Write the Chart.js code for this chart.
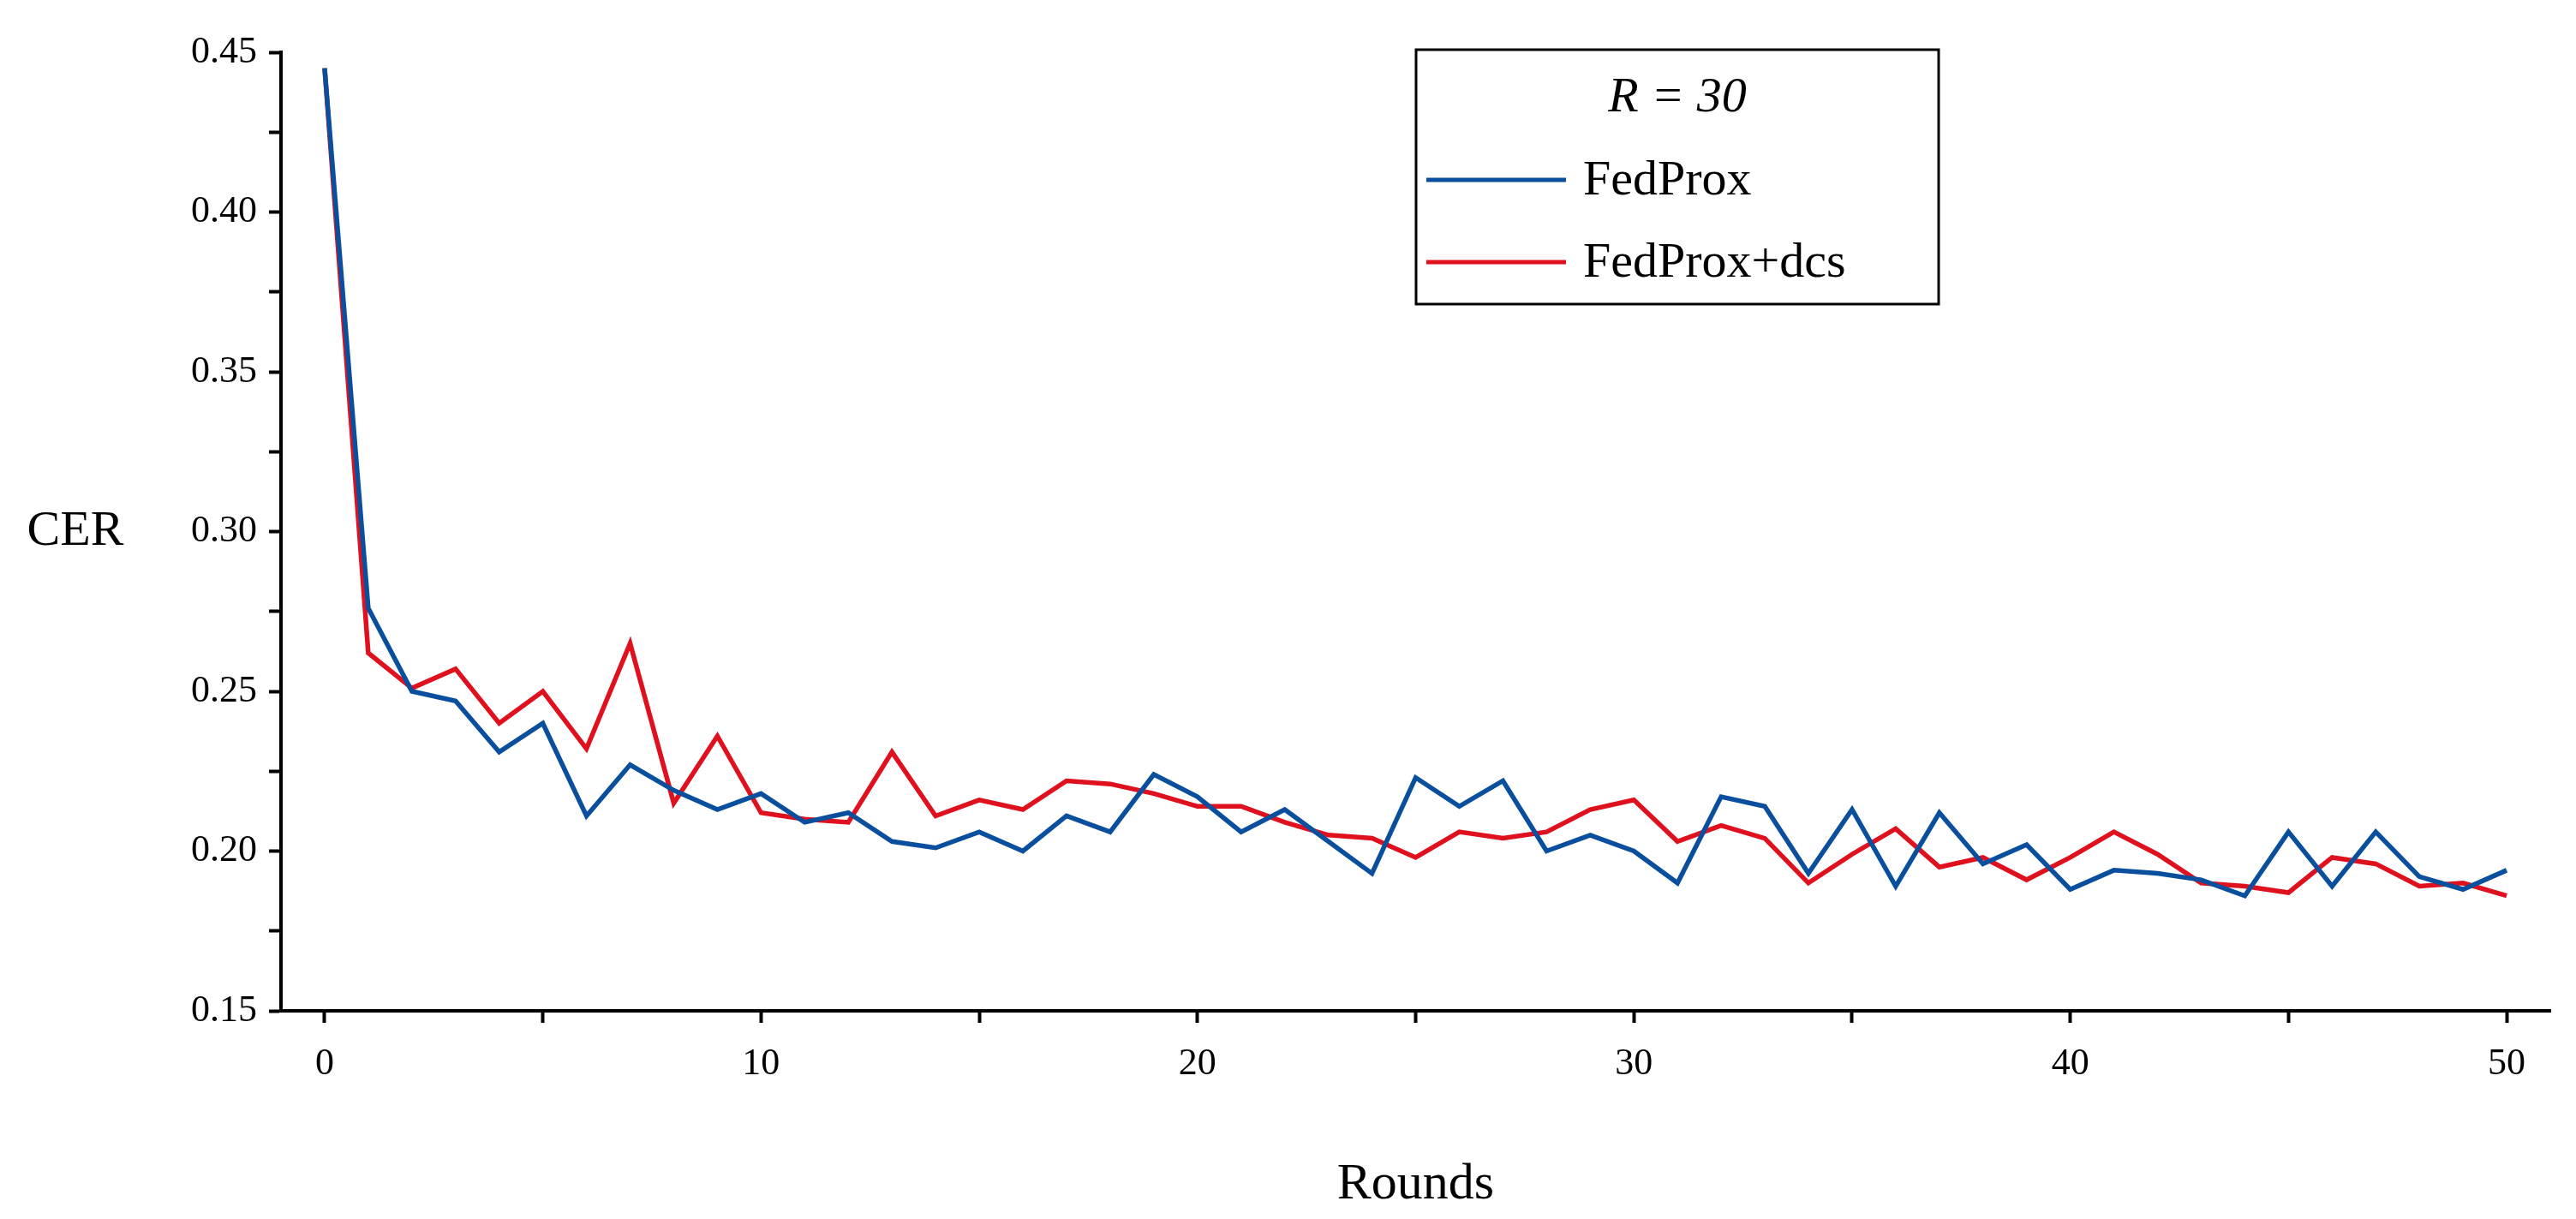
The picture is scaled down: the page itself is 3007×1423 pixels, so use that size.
<!DOCTYPE html>
<html><head><meta charset="utf-8">
<script src="https://cdn.jsdelivr.net/npm/chart.js@4.4.1/dist/chart.umd.min.js"></script>
<style>html,body{margin:0;padding:0;background:#fff}#wrap{width:3007px;height:1423px}</style>
</head><body><div id="wrap"><canvas id="c"></canvas></div>
<script>
const rounds = Array.from({length:51},(_,i)=>i);
const fedprox = [0.445,0.276,0.250,0.247,0.231,0.240,0.211,0.227,0.219,0.213,0.218,0.209,0.212,0.203,0.201,0.206,0.200,0.211,0.206,0.224,0.217,0.206,0.213,0.203,0.193,0.223,0.214,0.222,0.200,0.205,0.200,0.190,0.217,0.214,0.193,0.213,0.189,0.212,0.196,0.202,0.188,0.194,0.193,0.191,0.186,0.206,0.189,0.206,0.192,0.188,0.194];
const fedproxDcs = [0.445,0.262,0.251,0.257,0.240,0.250,0.232,0.265,0.215,0.236,0.212,0.210,0.209,0.231,0.211,0.216,0.213,0.222,0.221,0.218,0.214,0.214,0.209,0.205,0.204,0.198,0.206,0.204,0.206,0.213,0.216,0.203,0.208,0.204,0.190,0.199,0.207,0.195,0.198,0.191,0.198,0.206,0.199,0.190,0.189,0.187,0.198,0.196,0.189,0.190,0.186];
const seriesNames = ['FedProx','FedProx+dcs'];
const seriesColors = ['#0a4f9e','#e0111e'];
const legendTitle = 'R = 30';

const serif = '"Liberation Serif", "Times New Roman", serif';
Chart.defaults.font.family = serif;
Chart.defaults.font.size = 44;
Chart.defaults.color = '#000';

// legend box + CER label drawn by hand
const extras = {
  id:'extras',
  afterDraw(chart){
    const ctx=chart.ctx;
    ctx.save();
    ctx.fillStyle='#000';
    ctx.font='58px '+serif;
    ctx.textAlign='center';ctx.textBaseline='middle';
    const y=chart.scales.y.getPixelForValue(0.30);
    ctx.fillText('CER',88,y);
    // legend
    const lx=1653, ly=58, lw=610, lh=297;
    ctx.lineWidth=3;ctx.strokeStyle='#000';
    ctx.strokeRect(lx,ly,lw,lh);
    ctx.font='italic 58px '+serif;
    ctx.fillText(legendTitle,lx+lw/2,ly+57);
    ctx.textAlign='left';
    ctx.font='58px '+serif;
    seriesNames.forEach((n,i)=>{
      const yy=ly+152+i*96;
      ctx.strokeStyle=seriesColors[i];ctx.lineWidth=5;
      ctx.beginPath();ctx.moveTo(lx+12,yy);ctx.lineTo(lx+175,yy);ctx.stroke();
      ctx.fillText(n,lx+195,yy+2);
    });
    ctx.restore();
  }
};

new Chart(document.getElementById('c'),{
  type:'line',
  data:{
    labels:rounds,
    datasets:[
      {label:seriesNames[0],data:rounds.map((r,i)=>({x:r,y:fedprox[i]})),borderColor:seriesColors[0],borderWidth:5.5,pointRadius:0,tension:0},
      {label:seriesNames[1],data:rounds.map((r,i)=>({x:r,y:fedproxDcs[i]})),borderColor:seriesColors[1],borderWidth:5.5,pointRadius:0,tension:0}
    ]
  },
  options:{
    responsive:true,maintainAspectRatio:false,animation:false,
    layout:{padding:{top:61,right:30,left:0,bottom:0}},
    plugins:{legend:{display:false},tooltip:{enabled:false}},
    scales:{
      x:{type:'linear',min:-1,max:51,
        afterFit(s){s.height=243;},
        grid:{display:true,drawOnChartArea:false,drawTicks:true,tickLength:14,tickWidth:4,color:'#000'},
        border:{display:true,color:'#000',width:4},
        ticks:{stepSize:5,autoSkip:false,maxRotation:0,color:'#000',font:{family:serif,size:44},padding:22,
          callback:v=>v%10===0?String(v):''},
        afterBuildTicks(s){s.ticks=[];for(let v=0;v<=50;v+=5)s.ticks.push({value:v});},
        title:{display:true,text:'Rounds',color:'#000',font:{family:serif,size:60},padding:{top:40}}
      },
      y:{min:0.15,max:0.45,
        afterFit(s){s.width=328;},
        grid:{display:true,drawOnChartArea:false,drawTicks:true,tickLength:14,tickWidth:4,color:'#000'},
        border:{display:true,color:'#000',width:4},
        afterBuildTicks(s){s.ticks=[];for(let i=0;i<=12;i++)s.ticks.push({value:0.15+i*0.025});},
        ticks:{autoSkip:false,color:'#000',font:{family:serif,size:44},padding:14,
          callback:(v,i)=>i%2===0?v.toFixed(2):''}
      }
    }
  },
  plugins:[extras]
});
</script></body></html>
